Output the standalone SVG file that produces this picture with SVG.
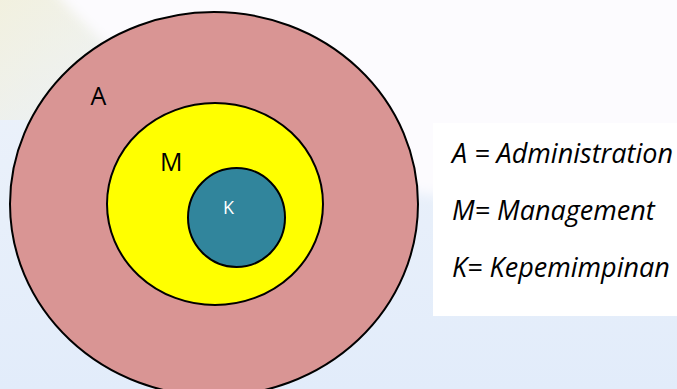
<svg xmlns="http://www.w3.org/2000/svg" width="677" height="389" viewBox="0 0 677 389">
  <defs>
    <linearGradient id="bg" x1="0" y1="0" x2="0" y2="1">
      <stop offset="0" stop-color="#EEF3FA"/>
      <stop offset="1" stop-color="#E2ECFA"/>
    </linearGradient>
    <linearGradient id="corner" x1="0" y1="0" x2="1" y2="1">
      <stop offset="0" stop-color="#F2F0DC" stop-opacity="0.9"/>
      <stop offset="1" stop-color="#F2F0DC" stop-opacity="0"/>
    </linearGradient>
    <filter id="soft" x="-20%" y="-20%" width="140%" height="140%">
      <feGaussianBlur stdDeviation="6"/>
    </filter>
  </defs>
  <style>
    .ring { stroke: #000; stroke-width: 2; }
    .lbl { font-family: "Open Sans", "Liberation Sans", sans-serif; }
    .leg { font-family: "Open Sans", "Liberation Sans", sans-serif; font-style: italic; font-size: 27px; fill: #000; }
  </style>

  <g id="background">
    <rect x="0" y="0" width="677" height="389" fill="url(#bg)"/>
    <rect x="0" y="0" width="140" height="120" fill="url(#corner)"/>
    <path d="M45,-20 L700,-20 L700,170 L430,195 C300,170 150,110 45,-20 Z" fill="#FCFBFE" filter="url(#soft)"/>
  </g>

  <g id="node-A">
    <ellipse class="ring" cx="214" cy="204" rx="204" ry="192" fill="#D99594"/>
    <text class="lbl" x="90.5" y="105" font-size="25" fill="#000">A</text>
  </g>

  <g id="node-M">
    <ellipse class="ring" cx="215" cy="204" rx="108" ry="101" fill="#FFFF00"/>
    <text class="lbl" x="160" y="171" font-size="25" fill="#000">M</text>
  </g>

  <g id="node-K">
    <ellipse class="ring" cx="236.5" cy="217.5" rx="48.5" ry="49.5" fill="#31859C"/>
    <text class="lbl" x="223" y="214" font-size="18" fill="#FFFFFF">K</text>
  </g>

  <g id="connectors"></g>

  <g id="legend">
    <rect x="433" y="123" width="244" height="193" fill="#FFFFFF"/>
    <text class="leg" x="452" y="163">A = Administration</text>
    <text class="leg" x="452" y="220">M= Management</text>
    <text class="leg" x="452" y="277">K= Kepemimpinan</text>
  </g>
</svg>
